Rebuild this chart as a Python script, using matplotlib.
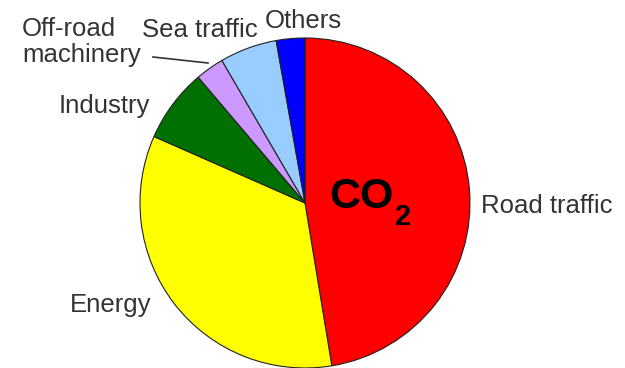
import matplotlib
matplotlib.use("Agg")
import matplotlib.pyplot as plt

plt.rcParams['font.family'] = ['Liberation Sans', 'DejaVu Sans']

# CO2 emission shares by source (percent), clockwise from 12 o'clock
sources = ["Road traffic", "Energy", "Industry", "Off-road\nmachinery",
           "Sea traffic", "Others"]
shares = [47.4, 34.2, 7.2, 2.8, 5.6, 2.8]
colors = ["#FF0000", "#FFFF00", "#007000", "#CC99FF", "#99CCFF", "#0000FF"]

W, H = 625, 368

fig = plt.figure(figsize=(W / 100, H / 100), dpi=100)
ax = fig.add_axes([0, 0, 1, 1])


def py(y):
    # pixel rows counted from the top
    return H - y


ax.pie(shares, colors=colors, startangle=90, counterclock=False,
       center=(305, py(203)), radius=165, frame=True,
       wedgeprops=dict(edgecolor="#222222", linewidth=0.8))
ax.set_xlim(0, W)
ax.set_ylim(0, H)
ax.axis("off")

# label positions: left edge, baseline of last line (pixels from top)
label_pos = {
    "Road traffic": (481, 213),
    "Energy": (70, 312),
    "Industry": (59, 113),
    "Off-road\nmachinery": (22, 62),
    "Sea traffic": (142, 37),
    "Others": (265, 28),
}
txt_color = "#333333"
for name in sources:
    x, y = label_pos[name]
    ax.text(x, py(y), name, fontsize=18.5, color=txt_color,
            ha="left", va="baseline", linespacing=1.13)

# leader line for the off-road machinery label
ax.plot([153, 208], [py(57), py(63)], color=txt_color, lw=1.2)

# CO2 title inside the pie
ax.text(329, py(208), "CO", fontsize=31, fontweight="bold",
        ha="left", va="baseline", color="black")
ax.text(395, py(225), "2", fontsize=21, fontweight="bold",
        ha="left", va="baseline", color="black")

fig.savefig("out.png", dpi=100, facecolor="white")
